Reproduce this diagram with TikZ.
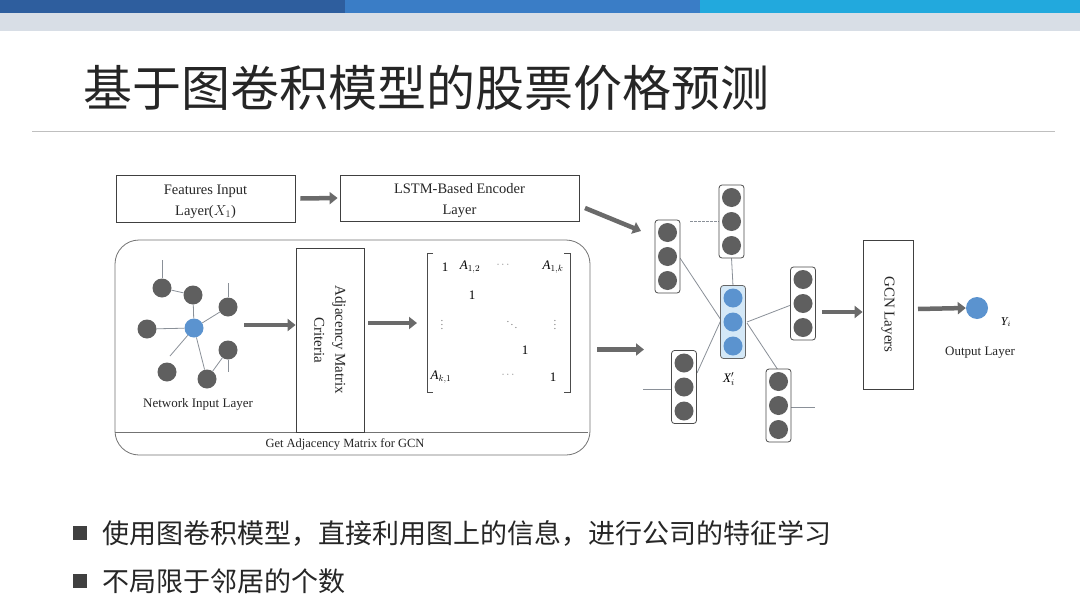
\documentclass[tikz,border=0pt]{standalone}
\usepackage{fontspec}
\setmainfont{Liberation Serif}
\newfontfamily\cjk{Noto Sans CJK SC}
\usetikzlibrary{arrows.meta,calc}
\definecolor{barA}{HTML}{2E5E9E}
\definecolor{barB}{HTML}{3A7DC6}
\definecolor{barC}{HTML}{22A9DD}
\definecolor{band}{HTML}{D8DEE6}
\definecolor{nodegrey}{HTML}{5F5F5F}
\definecolor{nodeblue}{HTML}{5B93CF}
\definecolor{boxblue}{HTML}{D4E8F7}
\definecolor{arrowgrey}{HTML}{6A6A6A}
\definecolor{linegrey}{HTML}{8A9098}
\begin{document}
\begin{tikzpicture}[x=1pt,y=-1pt,
  plainbox/.style={draw=black!75, line width=0.8pt, inner sep=0pt},
  garrow/.style={draw=arrowgrey, line width=4.5pt, -{Triangle[length=8pt,width=12pt]}},
  gn/.style={circle, fill=nodegrey, inner sep=0pt, minimum size=19pt},
  bn/.style={circle, fill=nodeblue, inner sep=0pt, minimum size=19pt},
  edge/.style={draw=linegrey, line width=0.8pt},
  colbox/.style={draw=black!70, line width=0.8pt, rounded corners=3pt, fill=white, minimum width=25pt, minimum height=73pt, inner sep=0pt},
  lbl/.style={font=\fontsize{14.5}{21}\selectfont, align=center, text=black!85},
  mdots/.style={inner sep=0pt, text=black!50, font=\fontsize{11}{12}\selectfont}
]
\useasboundingbox (0,0) rectangle (1080,608);
\fill[white] (0,0) rectangle (1080,608);
% top bars
\fill[barA] (0,0) rectangle (345,13);
\fill[barB] (345,0) rectangle (700,13);
\fill[barC] (700,0) rectangle (1080,13);
\fill[band] (0,13) rectangle (1080,31);
% title
\node[anchor=west, text=black!85, font=\cjk\fontsize{49}{52}\selectfont, inner sep=0pt] (title) at (83,88) {基于图卷积模型的股票价格预测};
\draw[black!25, line width=1pt] (32,131) -- (1055,131);

% top boxes
\node[plainbox, minimum width=179pt, minimum height=47pt] (feat) at (205.5,198.5) {};
\node[lbl, inner sep=0pt] (feattxt) at (205.5,201.5) {Features Input\\Layer($X_1$)};
\node[plainbox, minimum width=239pt, minimum height=46pt] (lstm) at (459.5,198) {};
\node[lbl, inner sep=0pt] (lstmtxt) at (459.5,200.5) {LSTM-Based Encoder\\Layer};
\draw[garrow] ($(feat.east)+(5,0)$) -- ($(lstm.west)+(-2,0)$);

% big rounded container
\node[draw=black!55, line width=0.8pt, rounded corners=24pt, minimum width=475pt, minimum height=215pt, inner sep=0pt] (container) at (352.5,347.5) {};
\draw[black!55, line width=0.8pt] (115,432) -- (588,432);
\node[font=\fontsize{12.5}{14}\selectfont, text=black!85] (getadj) at (345,444) {Get Adjacency Matrix for GCN};

% network input graph
\node[bn] (c) at (194,328) {};
\node[gn] (n1) at (162,288) {};
\node[gn] (n2) at (193,295) {};
\node[gn] (n3) at (228,307) {};
\node[gn] (n4) at (147,329) {};
\node[gn] (n5) at (228,350) {};
\node[gn] (n6) at (167,372) {};
\node[gn] (n7) at (207,379) {};
\coordinate (d1) at (162,260);
\coordinate (d2) at (228,283);
\coordinate (d3) at (228,372);
\coordinate (d4) at (170,356);
\draw[edge] (c) -- (n2);
\draw[edge] (n1) -- (n2);
\draw[edge] (c) -- (n3);
\draw[edge] (c) -- (n4);
\draw[edge] (c) -- (n7);
\draw[edge] (n7) -- (n5);
\draw[edge] (c) -- (d4);
\draw[edge] (n1) -- (d1);
\draw[edge] (n3) -- (d2);
\draw[edge] (n5) -- (d3);
\node[font=\fontsize{13}{15}\selectfont, text=black!85] (netlbl) at (198,404) {Network Input Layer};

% adjacency criteria box
\node[plainbox, minimum width=68pt, minimum height=184pt] (adj) at (330,340) {};
\node[rotate=-90, lbl, font=\fontsize{15}{21}\selectfont] (adjtxt) at (adj.center) {Adjacency Matrix\\Criteria};
\coordinate (netout) at (244,325);
\draw[garrow] (netout) -- (netout -| adj.west);
\coordinate (adjout) at ($(adj.east)+(4,-17)$);
\coordinate (matin) at (417,323);
\draw[garrow] (adjout) -- (matin);

% matrix
\begin{scope}[font=\fontsize{13}{15}\selectfont]
\draw[black!70, line width=0.7pt] (433,253) -- (427,253) -- (427,392) -- (433,392);
\draw[black!70, line width=0.7pt] (564,253) -- (570,253) -- (570,392) -- (564,392);
\node (m11) at (445,267) {1};
\node (m12) at (470,267) {{\itshape A}$_{1,2}$};
\node[mdots] (m13) at (503,265) {$\cdots$};
\node (m14) at (553,267) {{\itshape A}$_{1,k}$};
\node (m22) at (472,295) {1};
\node[mdots] (m31) at (442,322) {$\vdots$};
\node[mdots] (m33) at (512,322) {$\ddots$};
\node[mdots] (m35) at (555,322) {$\vdots$};
\node (m44) at (525,350) {1};
\node (m51) at (441,377) {{\itshape A}$_{k,1}$};
\node[mdots] (m53) at (508,375) {$\cdots$};
\node (m55) at (553,377) {1};
\end{scope}

% GCN graph columns
\newcommand\mycol[4]{%
  \node[colbox,#4] (#1) at (#2,#3) {};
  \node[gn] (#1a) at (#2,#3-24) {};
  \node[gn] (#1b) at (#2,#3) {};
  \node[gn] (#1c) at (#2,#3+24) {};
}
\coordinate (dB) at (690,221);
\coordinate (dE) at (643,389);
\coordinate (dF) at (815,407);
\draw[edge] (680,258) -- (721,320);
\draw[edge] (731.5,258) -- (733,286);
\draw[edge] (747,322) -- (791,305);
\draw[edge] (697,373) -- (721,320);
\draw[edge] (747,323) -- (778,370);
\draw[edge, dash pattern=on 3pt off 1pt] (dB) -- (719,221);
\draw[edge] (dE) -- (672,389);
\draw[edge] (791,407) -- (dF);
\mycol{A}{667.5}{256.5}{}
\mycol{B}{731.5}{221.5}{}
\mycol{D}{803}{303.5}{}
\mycol{E}{684}{387}{}
\mycol{F}{778.5}{405.5}{}
\node[colbox, fill=boxblue, draw=black!60] (C) at (733,322) {};
\node[bn] (Ca) at (733,298) {};
\node[bn] (Cb) at (733,322) {};
\node[bn] (Cc) at (733,346) {};
\node[font=\fontsize{13}{15}\selectfont] (xlbl) at (729,379) {{\itshape X}$_i'$};

\coordinate (lstmout) at (585,208);
\coordinate (graphin1) at (641,231);
\draw[garrow] (lstmout) -- (graphin1);
\coordinate (contout) at (597,349.5);
\coordinate (graphin2) at (644,349.5);
\draw[garrow] (contout) -- (graphin2);

% GCN layers
\node[plainbox, minimum width=50pt, minimum height=149pt] (gcn) at (888,314.5) {};
\node[rotate=-90, lbl, font=\fontsize{15}{18}\selectfont] (gcntxt) at (gcn.center) {GCN Layers};
\coordinate (graphout) at (822,312);
\draw[garrow] (graphout) -- (graphout -| gcn.west);
\node[bn, minimum size=22pt] (out) at (977,308) {};
\coordinate (gcnout) at (918,309);
\draw[garrow] (gcnout) -- (out.west);
\node[font=\fontsize{12}{14}\selectfont] (ylbl) at (1006,322) {{\itshape Y}$_i$};
\node[font=\fontsize{13}{15}\selectfont, text=black!85] (outlbl) at (980,353) {Output Layer};

% bullets
\fill[black!75] (73,526) rectangle (87,540);
\node[anchor=west, inner sep=0pt, font=\cjk\fontsize{27}{30}\selectfont, text=black!85] (b1) at (102,533) {使用图卷积模型，直接利用图上的信息，进行公司的特征学习};
\fill[black!75] (73,574) rectangle (87,588);
\node[anchor=west, inner sep=0pt, font=\cjk\fontsize{27}{30}\selectfont, text=black!85] (b2) at (102,581) {不局限于邻居的个数};
\end{tikzpicture}
\end{document}
